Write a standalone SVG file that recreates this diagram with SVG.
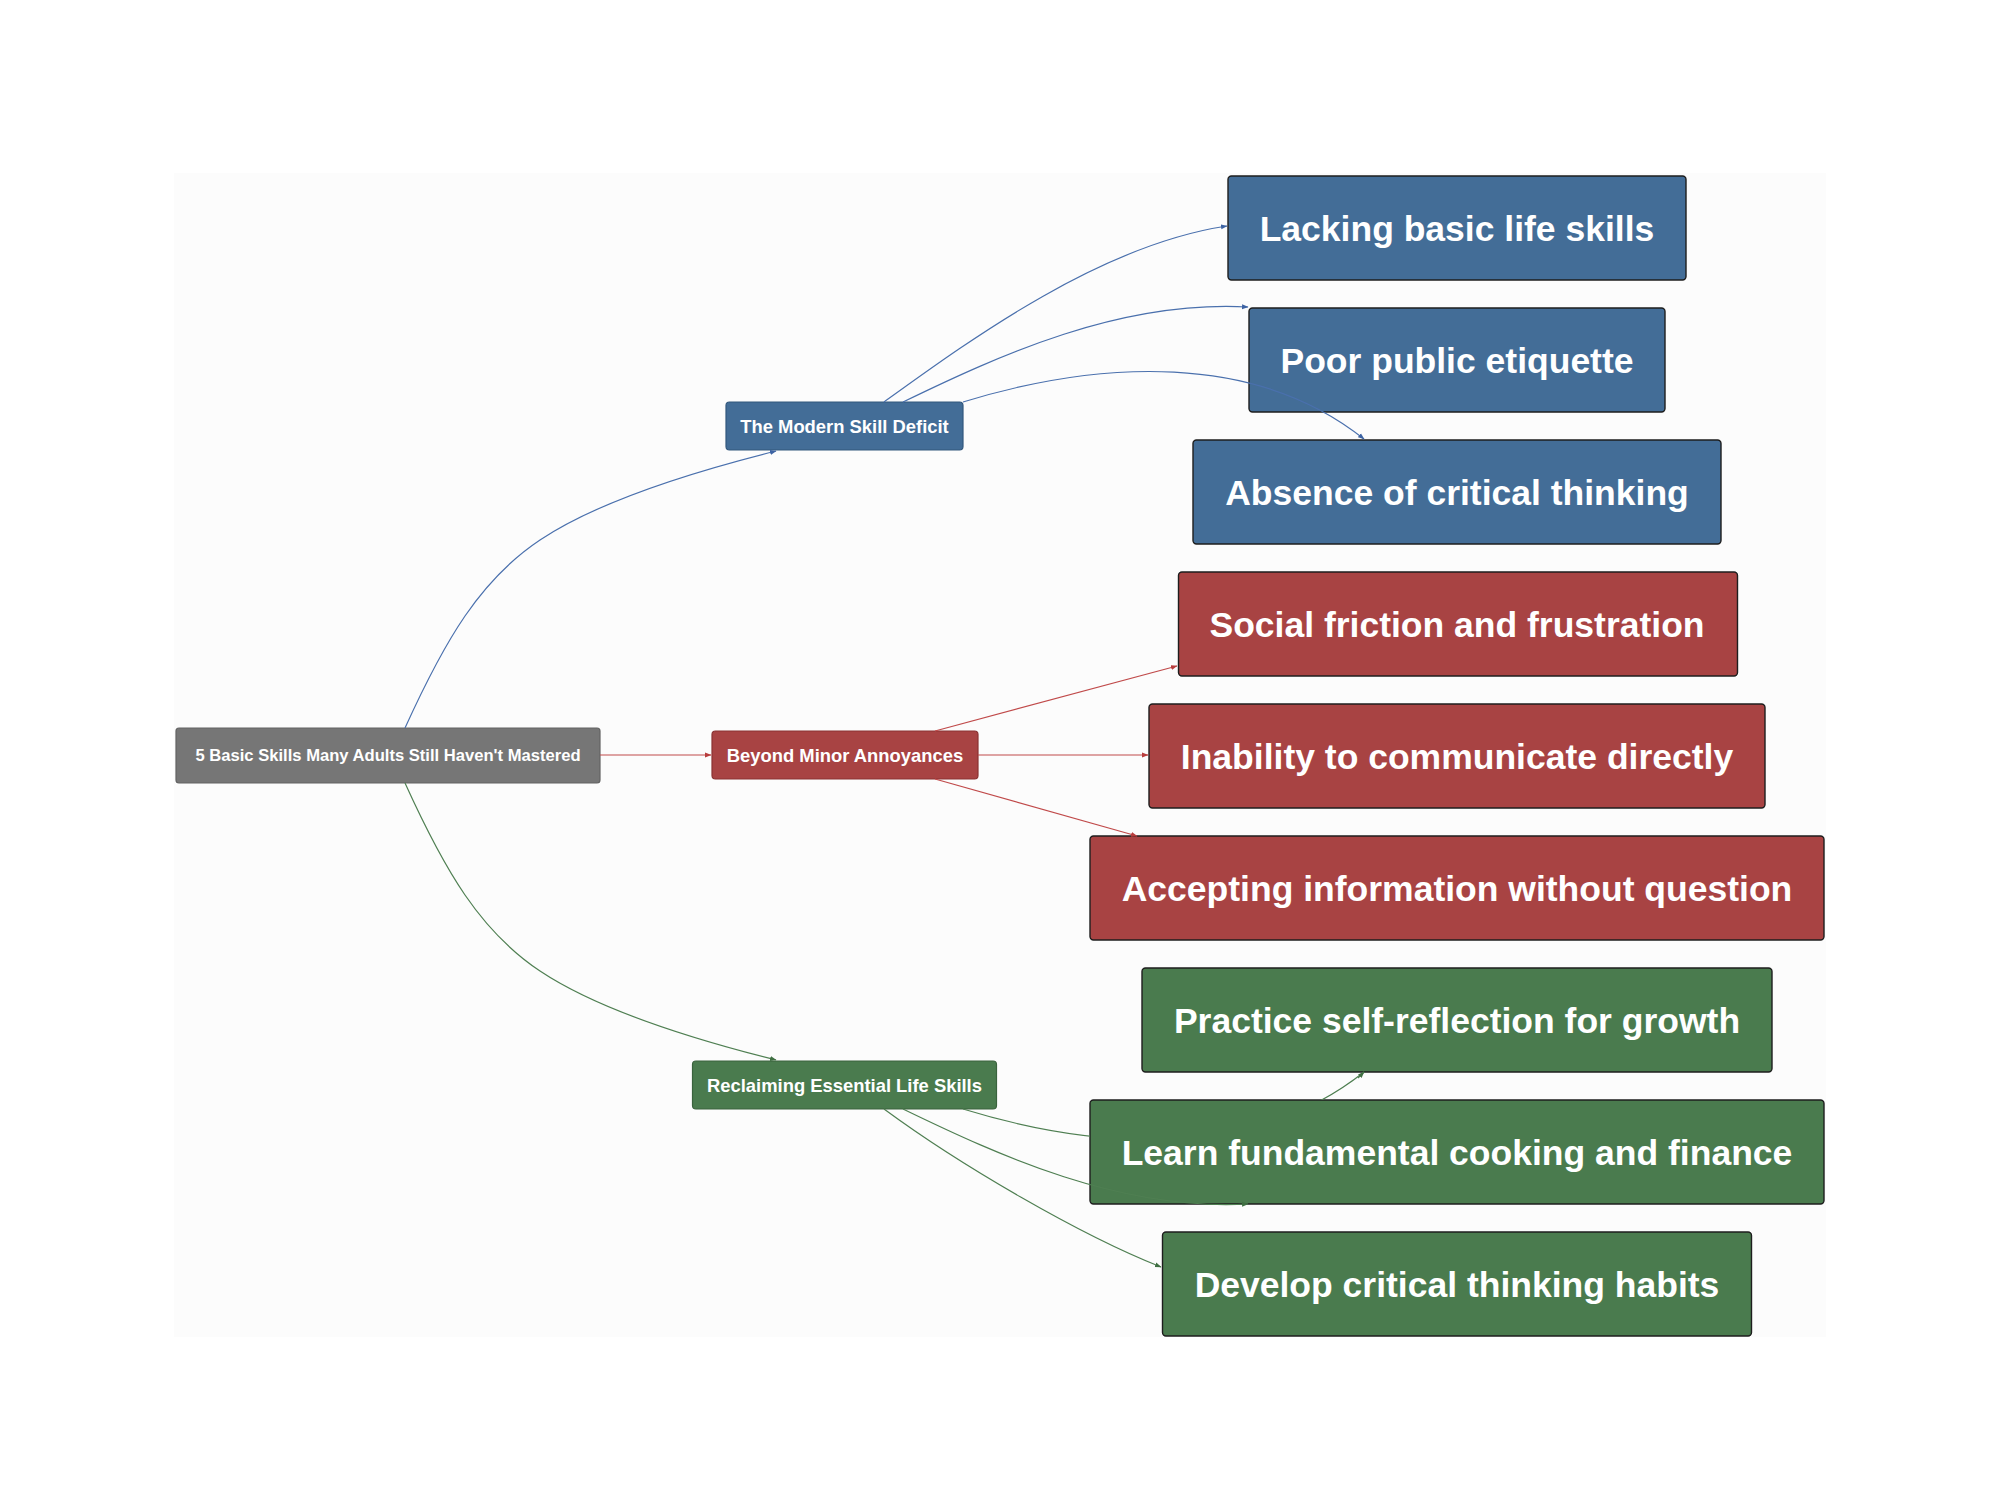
<svg xmlns="http://www.w3.org/2000/svg" width="2000" height="1511" viewBox="0 0 2000 1511">
<style>
text{font-family:"Liberation Sans",Arial,sans-serif;font-weight:bold;fill:#ffffff;text-anchor:middle}
.leaf text{font-size:35.5px}
.mid text{font-size:18.4px}
.root text{font-size:16.6px}
.leaf rect{stroke:#1e1e1e;stroke-width:1.4}
.blue rect{fill:#436d97}
.red rect{fill:#a84343}
.green rect{fill:#4a7b4e}
.mid.blue rect{stroke:#33587d;stroke-width:1.2}
.mid.red rect{stroke:#8a3333;stroke-width:1.2}
.mid.green rect{stroke:#3a633d;stroke-width:1.2}
.root rect{fill:#767676;stroke:#636363;stroke-width:1.2}
.e{fill:none;stroke-width:1.2}
.eb{stroke:#4a70ad}
.er{stroke:#c04a4a}
.eg{stroke:#4f7f52}
</style>
<defs>
<marker id="ab" markerWidth="7" markerHeight="6" refX="6" refY="3" orient="auto" markerUnits="userSpaceOnUse"><path d="M0,0.5 L6.5,3 L0,5.5 z" fill="#3d63a3"/></marker>
<marker id="ar" markerWidth="7" markerHeight="6" refX="6" refY="3" orient="auto" markerUnits="userSpaceOnUse"><path d="M0,0.5 L6.5,3 L0,5.5 z" fill="#b83d3d"/></marker>
<marker id="ag" markerWidth="7" markerHeight="6" refX="6" refY="3" orient="auto" markerUnits="userSpaceOnUse"><path d="M0,0.5 L6.5,3 L0,5.5 z" fill="#3f6f42"/></marker>
<clipPath id="behindLearn"><path clip-rule="evenodd" d="M0,0H2000V1511H0Z M1090,1100H1824V1204H1090Z"/></clipPath>
<clipPath id="behindBoxes"><path clip-rule="evenodd" d="M0,0H2000V1511H0Z M1228,176H1686V280H1228Z M1193,440H1721V544H1193Z M1142,968H1772V1072H1142Z M1162.5,1232H1751.5V1336H1162.5Z"/></clipPath>
</defs>
<rect width="2000" height="1511" fill="#ffffff"/>
<rect x="174" y="173" width="1652" height="1164" fill="#fcfcfc"/>
<g id="root" class="root"><rect x="176" y="728" width="424" height="55" rx="3"/><text x="388" y="761.4">5 Basic Skills Many Adults Still Haven't Mastered</text></g>
<g id="modern" class="mid blue"><rect x="726" y="402" width="237" height="48" rx="3.5"/><text x="844.5" y="432.6">The Modern Skill Deficit</text></g>
<g id="beyond" class="mid red"><rect x="712" y="731" width="266" height="48" rx="3.5"/><text x="845" y="761.6">Beyond Minor Annoyances</text></g>
<g id="reclaiming" class="mid green"><rect x="692.5" y="1061" width="304" height="48" rx="3.5"/><text x="844.5" y="1091.6">Reclaiming Essential Life Skills</text></g>
<g id="lacking" class="leaf blue"><rect x="1228" y="176" width="458" height="104" rx="3.5"/><text x="1457" y="240.7">Lacking basic life skills</text></g>
<g id="poor" class="leaf blue"><rect x="1249" y="308" width="416" height="104" rx="3.5"/><text x="1457" y="372.7">Poor public etiquette</text></g>
<g id="absence" class="leaf blue"><rect x="1193" y="440" width="528" height="104" rx="3.5"/><text x="1457" y="504.7">Absence of critical thinking</text></g>
<g id="social" class="leaf red"><rect x="1178.5" y="572" width="559" height="104" rx="3.5"/><text x="1457" y="636.7">Social friction and frustration</text></g>
<g id="inability" class="leaf red"><rect x="1149" y="704" width="616" height="104" rx="3.5"/><text x="1457" y="768.7">Inability to communicate directly</text></g>
<g id="accepting" class="leaf red"><rect x="1090" y="836" width="734" height="104" rx="3.5"/><text x="1457" y="900.7">Accepting information without question</text></g>
<g id="practice" class="leaf green"><rect x="1142" y="968" width="630" height="104" rx="3.5"/><text x="1457" y="1032.7">Practice self-reflection for growth</text></g>
<g id="learn" class="leaf green"><rect x="1090" y="1100" width="734" height="104" rx="3.5"/><text x="1457" y="1164.7">Learn fundamental cooking and finance</text></g>
<g id="develop" class="leaf green"><rect x="1162.5" y="1232" width="589" height="104" rx="3.5"/><text x="1457" y="1296.7">Develop critical thinking habits</text></g>
<g id="connectors">
<path class="e eb" marker-end="url(#ab)" d="M405,728 C445,640 480,580 540,540 S700,470 776,451"/>
<path class="e er" marker-end="url(#ar)" d="M600,755 L711,755"/>
<path class="e eg" marker-end="url(#ag)" d="M405,783 C445,871 480,931 540,971 S700,1041 776,1060"/>
<path class="e eb" marker-end="url(#ab)" d="M884,402 C970,340 1100,245 1227,226"/>
<path class="e eb" marker-end="url(#ab)" d="M903,402 C1000,355 1120,300 1248,307"/>
<path class="e eb" marker-end="url(#ab)" d="M963,402 C1100,360 1255,352 1364,439"/>
<path class="e er" marker-end="url(#ar)" d="M935,731 L1177,666"/>
<path class="e er" marker-end="url(#ar)" d="M978,755 L1148,755"/>
<path class="e er" marker-end="url(#ar)" d="M935,779 L1137,836"/>
<path class="e eg" clip-path="url(#behindLearn)" d="M963,1109 C1100,1151 1255,1159 1364,1072"/>
<path class="e eg" marker-end="url(#ag)" d="M1358,1078 L1364,1072"/>
<path class="e eg" marker-end="url(#ag)" d="M903,1109 C1000,1156 1120,1211 1248,1204"/>
<path class="e eg" marker-end="url(#ag)" d="M884,1109 C960,1165 1080,1235 1161,1267"/>
</g>
</svg>
